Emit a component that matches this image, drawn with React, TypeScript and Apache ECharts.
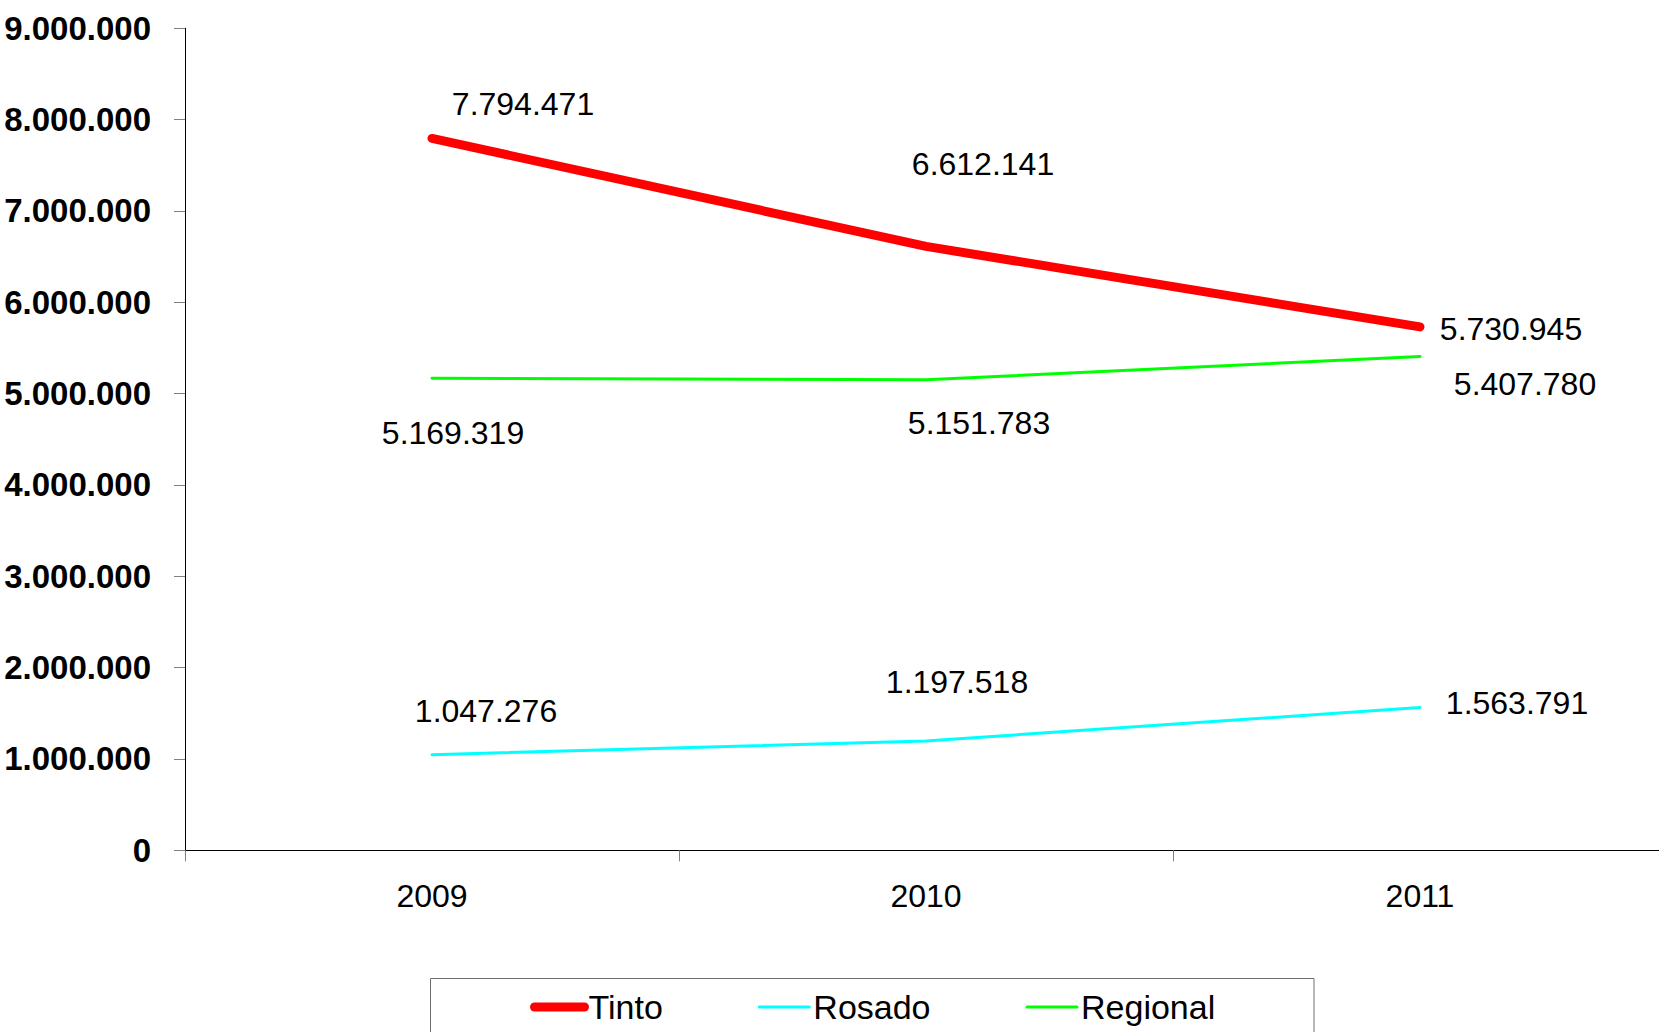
import React, { useEffect, useRef } from "react";
import * as echarts from "echarts";

const categories = ["2009", "2010", "2011"];
const seriesNames = ["Tinto", "Rosado", "Regional"];
const tinto = [7794471, 6612141, 5730945];
const rosado = [1047276, 1197518, 1563791];
const regional = [5169319, 5151783, 5407780];
const yMin = 0;
const yMax = 9000000;
const yStep = 1000000;

// label offsets (layout only)
const tintoLabelOffsets = [[91, -34], [57, -82], [91, 2]];
const rosadoLabelOffsets = [[54, -44], [31, -59], [97, -4]];
const regionalLabelOffsets = [[21, 55], [53, 43], [105, 28]];

const FONT = "'Liberation Sans Narrow', 'Arial Narrow', 'Liberation Sans', Arial, sans-serif";

function fmt(n: number): string {
  return String(Math.round(n)).replace(/\B(?=(\d{3})+(?!\d))/g, ".");
}

function makeSeries(name: string, values: number[], offsets: number[][], color: string, width: number) {
  return {
    name,
    type: "line",
    symbol: "circle",
    symbolSize: 1,
    showSymbol: true,
    itemStyle: { color },
    lineStyle: { color, width, cap: "round", join: "round" },
    label: {
      show: true,
      position: "inside",
      fontFamily: FONT,
      fontSize: 32,
      color: "#000",
      formatter: (p: any) => fmt(p.value),
    },
    data: values.map((v, i) => ({ value: v, label: { offset: offsets[i] } })),
  };
}

export default function App() {
  const ref = useRef<HTMLDivElement>(null);
  useEffect(() => {
    document.body.style.margin = "0";
    const chart = echarts.init(ref.current!, null, { renderer: "svg" });
    chart.setOption({
      animation: false,
      backgroundColor: "#fff",
      grid: {
        left: 185,
        right: -8,
        top: 28.3,
        bottom: 181.7,
        containLabel: false,
        outerBoundsMode: "none",
      },
      xAxis: {
        type: "category",
        data: categories,
        boundaryGap: true,
        axisLine: { lineStyle: { color: "#000", width: 1 } },
        axisTick: { show: true, length: 11, lineStyle: { color: "#808080" } },
        axisLabel: { fontFamily: FONT, fontSize: 32, color: "#000", margin: 30 },
        splitLine: { show: false },
      },
      yAxis: {
        type: "value",
        min: yMin,
        max: yMax,
        interval: yStep,
        axisLine: { show: true, lineStyle: { color: "#000", width: 1 } },
        axisTick: { show: true, length: 11, lineStyle: { color: "#808080" } },
        axisLabel: {
          fontFamily: FONT,
          fontSize: 33,
          fontWeight: "bold",
          color: "#000",
          margin: 34,
          formatter: (v: number) => fmt(v),
        },
        splitLine: { show: false },
      },
      legend: {
        data: [
          { name: seriesNames[0], lineStyle: { width: 9, cap: "round" } },
          { name: seriesNames[1], lineStyle: { width: 3 } },
          { name: seriesNames[2], lineStyle: { width: 3 } },
        ],
        left: 530,
        top: 990,
        padding: 0,
        itemWidth: 50,
        itemHeight: 14,
        itemGap: 95,
        itemStyle: { opacity: 0 },
        textStyle: { fontFamily: FONT, fontSize: 34, color: "#000", padding: [0, 0, 0, -1] },
      },
      graphic: [
        {
          type: "rect",
          shape: { x: 430.5, y: 978.5, width: 883.5, height: 80 },
          style: { fill: "none", stroke: "#6e6e6e", lineWidth: 1 },
          silent: true,
        },
      ],
      series: [
        makeSeries(seriesNames[0], tinto, tintoLabelOffsets, "#FF0000", 9),
        makeSeries(seriesNames[1], rosado, rosadoLabelOffsets, "#00FFFF", 3),
        makeSeries(seriesNames[2], regional, regionalLabelOffsets, "#00FF00", 3),
      ],
    });
    return () => chart.dispose();
  }, []);
  return (
    <div
      ref={ref}
      style={{ position: "absolute", left: 0, top: 0, width: 1659, height: 1032 }}
    />
  );
}
